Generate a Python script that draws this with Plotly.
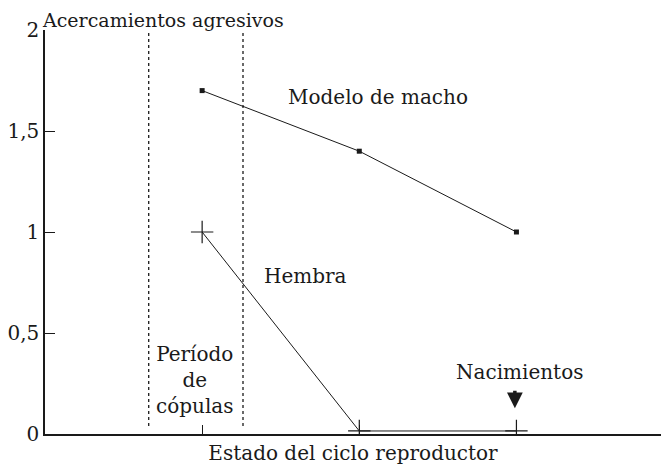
import plotly.graph_objects as go

# reproductive cycle stages (1 = copulation, 2 = mid, 3 = births)
stages = [1, 2, 3]
male_model = [1.7, 1.4, 1.0]
female = [1.0, 0.015, 0.015]

copula_start = 0.66
copula_end = 1.26

y_ticks = [0, 0.5, 1, 1.5, 2]
y_labels = ["0", "0,5", "1", "1,5", "2"]

font = "DejaVu Serif"
ink = "#1a1a1a"
fsize = 20

fig = go.Figure()

# male model series
fig.add_trace(go.Scatter(
    x=stages, y=male_model, mode="lines+markers",
    line=dict(color=ink, width=1),
    marker=dict(symbol="square", size=5, color=ink),
    showlegend=False))

# female series
fig.add_trace(go.Scatter(
    x=stages, y=female, mode="lines+markers",
    line=dict(color=ink, width=1),
    marker=dict(symbol="cross-thin", size=16, line=dict(color=ink, width=1.2)),
    showlegend=False))

# dotted lines marking the copulation period
for xv in (copula_start, copula_end):
    fig.add_shape(type="line", x0=xv, x1=xv, y0=0.04, y1=2,
                  line=dict(color=ink, width=1.3, dash="dot"))

labels = [
    (2.12, 1.668, "Modelo de macho"),
    (1.656, 0.78, "Hembra"),
    (0.955, 0.265, "Período<br>de<br>cópulas"),
    (3.02, 0.307, "Nacimientos"),
]
for xv, yv, txt in labels:
    fig.add_annotation(x=xv, y=yv, text=txt, showarrow=False,
                       font=dict(family=font, size=fsize, color=ink))

# births arrow
fig.add_annotation(x=2.99, y=0.128, ax=0, ay=-19, text="", showarrow=True,
                   arrowhead=2, arrowsize=0.9, arrowwidth=3.5, arrowcolor=ink)

# y axis title, kept inside the top edge
fig.add_annotation(x=0, y=1, xref="paper", yref="paper", xanchor="left",
                   yanchor="top", yshift=22, xshift=-4, borderpad=0,
                   text="Acercamientos agresivos", showarrow=False,
                   font=dict(family=font, size=19, color=ink))

fig.update_xaxes(range=[0, 3.92], tickvals=stages, ticktext=["", "", ""],
                 ticks="inside", ticklen=9, tickcolor=ink, tickwidth=1,
                 showline=True, linecolor=ink, linewidth=1.5,
                 showgrid=False, zeroline=False, automargin=False,
                 title=dict(text="Estado del ciclo reproductor", standoff=18,
                            font=dict(family=font, size=fsize, color=ink)))
fig.update_yaxes(range=[0, 2], tickvals=y_ticks, ticktext=y_labels,
                 ticks="inside", ticklen=10, tickcolor=ink, tickwidth=1,
                 showline=True, linecolor=ink, linewidth=1.5,
                 showgrid=False, zeroline=False, automargin=False,
                 tickfont=dict(family=font, size=fsize, color=ink))

# page body keeps an 8px margin, so the figure is sized to fit inside it
fig.update_layout(width=653, height=457,
                  margin=dict(l=37, r=0, t=22, b=31),
                  plot_bgcolor="white", paper_bgcolor="white",
                  font=dict(family=font, color=ink))

fig.write_html("out.html")
